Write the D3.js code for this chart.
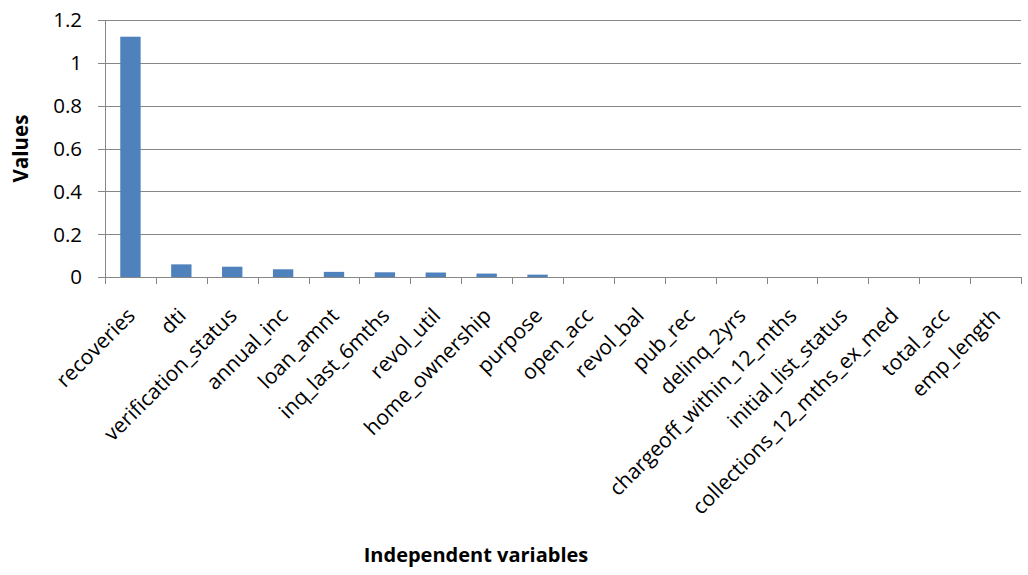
<!DOCTYPE html>
<html>
<head>
<meta charset="utf-8">
<script src="https://cdn.jsdelivr.net/npm/d3@7"></script>
<style>
  html, body { margin: 0; padding: 0; background: #fff; }
  svg { display: block; font-family: "Open Sans", "Noto Sans", sans-serif; }
</style>
</head>
<body>
<svg id="chart" width="1028" height="575"></svg>
<script>
// Variable importance values per independent variable
const categories = [
  "recoveries", "dti", "verification_status", "annual_inc", "loan_amnt",
  "inq_last_6mths", "revol_util", "home_ownership", "purpose", "open_acc",
  "revol_bal", "pub_rec", "delinq_2yrs", "chargeoff_within_12_mths",
  "initial_list_status", "collections_12_mths_ex_med", "total_acc", "emp_length"
];
const values = [
  1.122, 0.059, 0.048, 0.036, 0.024,
  0.022, 0.021, 0.016, 0.011, 0,
  0, 0, 0, 0,
  0, 0, 0, 0
];
const yTicks = [0, 0.2, 0.4, 0.6, 0.8, 1, 1.2];

const svg = d3.select("#chart");
const plotLeft = 105, plotRight = 1021, plotTop = 20, plotBottom = 277;

const x = d3.scaleBand().domain(categories).range([plotLeft, plotRight]).paddingInner(0.6).paddingOuter(0.3);
const xb = d3.scaleBand().domain(categories).range([plotLeft, plotRight]);
const y = d3.scaleLinear().domain([0, 1.2]).range([plotBottom, plotTop]);

const axisColor = "#868686";

// Horizontal gridlines
svg.append("g")
  .selectAll("line")
  .data(yTicks)
  .join("line")
  .attr("x1", plotLeft - 7).attr("x2", plotRight)
  .attr("y1", d => Math.round(y(d)) + 0.5).attr("y2", d => Math.round(y(d)) + 0.5)
  .attr("stroke", axisColor).attr("stroke-width", 1);

// Y tick labels
svg.append("g")
  .selectAll("text")
  .data(yTicks)
  .join("text")
  .attr("x", plotLeft - 23)
  .attr("y", d => y(d))
  .attr("dy", "0.36em")
  .attr("text-anchor", "end")
  .attr("font-size", 20.5)
  .attr("fill", "#000")
  .text(d => d3.format("~g")(d));

// Y axis line
svg.append("line")
  .attr("x1", plotLeft + 0.5).attr("x2", plotLeft + 0.5)
  .attr("y1", plotTop).attr("y2", plotBottom)
  .attr("stroke", axisColor);

// Bars
svg.append("g")
  .selectAll("rect")
  .data(categories.map((c, i) => ({ c, v: values[i] })))
  .join("rect")
  .attr("x", d => x(d.c))
  .attr("width", x.bandwidth())
  .attr("y", d => y(d.v))
  .attr("height", d => plotBottom - y(d.v))
  .attr("fill", "#4F81BD");

// X axis line and category boundary ticks
svg.append("line")
  .attr("x1", plotLeft).attr("x2", plotRight)
  .attr("y1", plotBottom + 0.5).attr("y2", plotBottom + 0.5)
  .attr("stroke", axisColor);

const boundaries = categories.map(c => xb(c)).concat([plotRight]);
svg.append("g")
  .selectAll("line")
  .data(boundaries)
  .join("line")
  .attr("x1", d => Math.round(d) + 0.5).attr("x2", d => Math.round(d) + 0.5)
  .attr("y1", plotBottom).attr("y2", plotBottom + 7)
  .attr("stroke", axisColor);

// Rotated category labels
svg.append("g")
  .selectAll("text")
  .data(categories)
  .join("text")
  .attr("transform", d => `translate(${xb(d) + xb.bandwidth() / 2 + 6},${plotBottom + 40}) rotate(-45)`)
  .attr("text-anchor", "end")
  .attr("font-size", 21)
  .attr("fill", "#000")
  .text(d => d);

// Axis titles
svg.append("text")
  .attr("transform", `translate(28,${(plotTop + plotBottom) / 2}) rotate(-90)`)
  .attr("text-anchor", "middle")
  .attr("font-size", 20.5)
  .attr("font-weight", "bold")
  .text("Values");

svg.append("text")
  .attr("x", 476)
  .attr("y", 562)
  .attr("text-anchor", "middle")
  .attr("font-size", 20)
  .attr("font-weight", "bold")
  .text("Independent variables");
</script>
</body>
</html>
